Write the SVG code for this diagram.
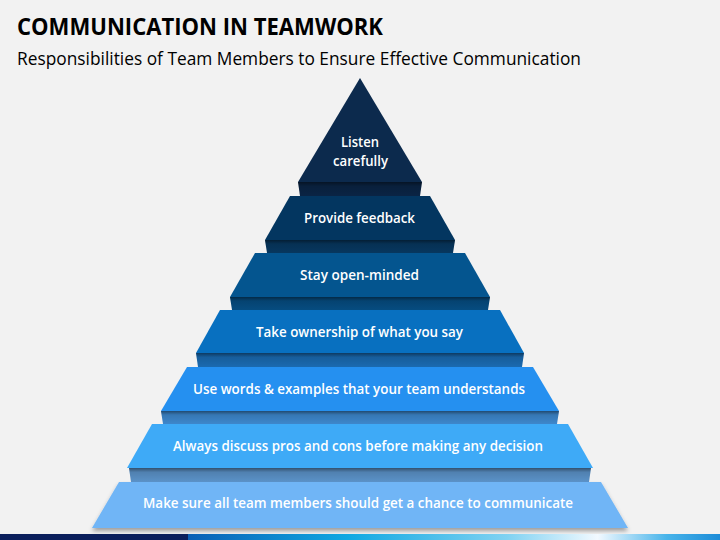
<svg xmlns="http://www.w3.org/2000/svg" width="720" height="540" viewBox="0 0 720 540">
<defs>
<style>
.lbl{font-family:"Open Sans","Noto Sans","Liberation Sans",sans-serif;font-size:14.5px;font-weight:600;fill:#ffffff;text-anchor:middle}
.shade{fill:url(#riserShade)}
</style>
<linearGradient id="riserShade" x1="0" y1="0" x2="0" y2="1">
<stop offset="0" stop-color="#000" stop-opacity="0.45"/>
<stop offset="0.3" stop-color="#000" stop-opacity="0.12"/>
<stop offset="1" stop-color="#000" stop-opacity="0"/>
</linearGradient>
<linearGradient id="barGrad" x1="0" y1="0" x2="1" y2="0">
<stop offset="0" stop-color="#0a5fb5"/>
<stop offset="0.3" stop-color="#10a8e2"/>
<stop offset="0.6" stop-color="#80d2f2"/>
<stop offset="0.77" stop-color="#f2f9ff"/>
<stop offset="0.9" stop-color="#48b4ea"/>
<stop offset="1" stop-color="#1c8cd8"/>
</linearGradient>
<filter id="shadow" x="-10%" y="-20%" width="120%" height="160%">
<feDropShadow dx="0" dy="3" stdDeviation="2" flood-color="#000" flood-opacity="0.35"/>
</filter>
</defs>
<rect x="0" y="0" width="720" height="540" fill="#f2f2f2"/>
<text x="17" y="35" font-family="'Open Sans','Noto Sans','Liberation Sans',sans-serif" font-size="23.5" font-weight="bold" fill="#000" textLength="366" lengthAdjust="spacingAndGlyphs">COMMUNICATION IN TEAMWORK</text>
<text x="17" y="65" font-family="'Open Sans','Noto Sans','Liberation Sans',sans-serif" font-size="17.5" fill="#000" textLength="564" lengthAdjust="spacingAndGlyphs">Responsibilities of Team Members to Ensure Effective Communication</text>

<g id="tier7">
<polygon points="119,482 601,482 628,528 92,528" fill="#6fb5f6" filter="url(#shadow)"/>
<text class="lbl" x="358" y="508" textLength="430" lengthAdjust="spacingAndGlyphs">Make sure all team members should get a chance to communicate</text>
</g>
<g id="tier6">
<polygon points="129,468 591,468 589,482 131,482" fill="#5b92c8"/>
<polygon class="shade" points="129,468 591,468 589,482 131,482"/>
<polygon points="152,424 568,424 593,468 127,468" fill="#3eaaf7"/>
<text class="lbl" x="358" y="451" textLength="370" lengthAdjust="spacingAndGlyphs">Always discuss pros and cons before making any decision</text>
</g>
<g id="tier5">
<polygon points="161,411 559,411 557,424 163,424" fill="#3d87cc"/>
<polygon class="shade" points="161,411 559,411 557,424 163,424"/>
<polygon points="187,367 533,367 559,411 161,411" fill="#2590f0"/>
<text class="lbl" x="359" y="394" textLength="332" lengthAdjust="spacingAndGlyphs">Use words &amp; examples that your team understands</text>
</g>
<g id="tier4">
<polygon points="196,353 524,353 522,367 198,367" fill="#1a6ab0"/>
<polygon class="shade" points="196,353 524,353 522,367 198,367"/>
<polygon points="220,310 500,310 524,353 196,353" fill="#0870c0"/>
<text class="lbl" x="359.500" y="337" textLength="207" lengthAdjust="spacingAndGlyphs">Take ownership of what you say</text>
</g>
<g id="tier3">
<polygon points="230,297 490,297 488,310 232,310" fill="#064c80"/>
<polygon class="shade" points="230,297 490,297 488,310 232,310"/>
<polygon points="255,253 465,253 490,297 230,297" fill="#04558f"/>
<text class="lbl" x="359.500" y="280" textLength="119" lengthAdjust="spacingAndGlyphs">Stay open-minded</text>
</g>
<g id="tier2">
<polygon points="265,240 455,240 453,253 267,253" fill="#07375f"/>
<polygon class="shade" points="265,240 455,240 453,253 267,253"/>
<polygon points="290,196 430,196 455,240 265,240" fill="#033660"/>
<text class="lbl" x="359.500" y="223" textLength="111" lengthAdjust="spacingAndGlyphs">Provide feedback</text>
</g>
<g id="tier1">
<polygon points="298,182 422,182 420,196 300,196" fill="#0a2444"/>
<polygon class="shade" points="298,182 422,182 420,196 300,196"/>
<polygon points="360,78 422,182 298,182" fill="#0c2a4d"/>
<text class="lbl" x="360" y="147" textLength="38" lengthAdjust="spacingAndGlyphs">Listen</text>
<text class="lbl" x="360.500" y="166" textLength="55" lengthAdjust="spacingAndGlyphs">carefully</text>
</g>

<rect x="0" y="534" width="188" height="6" fill="#0b1f5c"/>
<rect x="188" y="534" width="532" height="6" fill="url(#barGrad)"/>
</svg>
